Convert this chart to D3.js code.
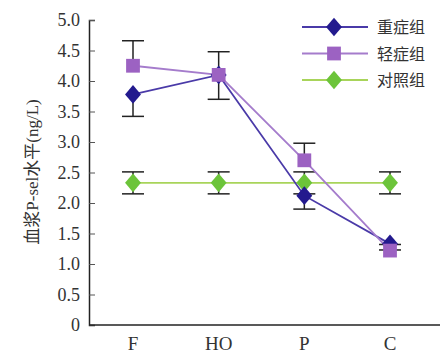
<!DOCTYPE html>
<html>
<head>
<meta charset="utf-8">
<script src="https://cdn.jsdelivr.net/npm/d3@7"></script>
<style>
  body { margin: 0; background: #fff; }
  text { font-family: "Liberation Serif", "Noto Sans CJK SC", serif; }
</style>
</head>
<body>
<div id="canvas"></div>
<script>
// categories and series
const groups = ["F", "HO", "P", "C"];
const seriesNames = ["重症组", "轻症组", "对照组"];
const heavyVals = [3.78, 4.10, 2.12, 1.33];
const lightVals = [4.25, 4.10, 2.70, 1.22];
const controlVals = [2.33, 2.33, 2.33, 2.33];
// error bar sizes (heavy drawn downward, light upward, control both ways)
const heavyErr = [0.36, 0.40, 0.22, 0.10];
const lightErr = [0.41, 0.38, 0.28, 0.10];
const controlErr = [0.18, 0.18, 0.18, 0.18];
const yTicks = [0, 0.5, 1.0, 1.5, 2.0, 2.5, 3.0, 3.5, 4.0, 4.5, 5.0];

const width = 442, height = 357;
const margin = {top: 20, right: 2, bottom: 32, left: 89};

const svg = d3.select("#canvas")
    .append("svg")
    .attr("width", width)
    .attr("height", height);

const x = d3.scalePoint()
    .domain(groups)
    .range([133, 390]);

const y = d3.scaleLinear()
    .domain([0, 5])
    .range([height - margin.bottom, margin.top]);

// y axis with inner ticks
const yAxis = svg.append("g")
    .attr("transform", "translate(" + margin.left + ",0)")
    .call(d3.axisLeft(y).tickValues(yTicks).tickSize(-6).tickPadding(9)
        .tickFormat(d => d === 0 ? "0" : d3.format(".1f")(d)));
yAxis.select(".domain").attr("stroke", "#222").attr("stroke-width", 1.5);
yAxis.selectAll(".tick line").attr("stroke", "#555");
yAxis.selectAll(".tick text")
    .attr("font-size", 18)
    .attr("fill", "#333")
    .style("font-family", "Liberation Serif");

// x axis line and labels
svg.append("line")
    .attr("x1", margin.left).attr("x2", width - margin.right)
    .attr("y1", y(0)).attr("y2", y(0))
    .attr("stroke", "#222").attr("stroke-width", 1.5);
svg.selectAll(".xlab")
    .data(groups)
    .enter()
    .append("text")
    .attr("x", d => x(d))
    .attr("y", 350)
    .attr("text-anchor", "middle")
    .attr("font-size", 19)
    .attr("fill", "#333")
    .text(d => d);

// y axis title
svg.append("text")
    .attr("transform", "translate(38,172) rotate(-90)")
    .attr("text-anchor", "middle")
    .attr("font-size", 17)
    .attr("fill", "#333")
    .text("血浆P-sel水平(ng/L)");

const series = [
    {name: seriesNames[0], vals: heavyVals, err: heavyErr, dir: "down", line: "#4a3aa8", fill: "#231a8e", shape: "diamond"},
    {name: seriesNames[1], vals: lightVals, err: lightErr, dir: "up", line: "#a57ccc", fill: "#9c62c2", shape: "square"},
    {name: seriesNames[2], vals: controlVals, err: controlErr, dir: "both", line: "#a8d45a", fill: "#6cc43a", shape: "diamond"}
];

const capW = 11;
function drawErr(g, cx, v, e, dir) {
    const lo = dir === "up" ? v : v - e;
    const hi = dir === "down" ? v : v + e;
    g.append("line").attr("x1", cx).attr("x2", cx).attr("y1", y(lo)).attr("y2", y(hi))
        .attr("stroke", "#222").attr("stroke-width", 1.5);
    if (dir !== "up")
        g.append("line").attr("x1", cx - capW).attr("x2", cx + capW).attr("y1", y(lo)).attr("y2", y(lo))
            .attr("stroke", "#222").attr("stroke-width", 1.5);
    if (dir !== "down")
        g.append("line").attr("x1", cx - capW).attr("x2", cx + capW).attr("y1", y(hi)).attr("y2", y(hi))
            .attr("stroke", "#222").attr("stroke-width", 1.5);
}

const errGroup = svg.append("g");
series.forEach(s => {
    groups.forEach((gname, i) => drawErr(errGroup, x(gname), s.vals[i], s.err[i], s.dir));
});

const symbolFor = shape => shape === "square"
    ? d3.symbol().type(d3.symbolSquare).size(190)
    : d3.symbol().type(d3.symbolDiamond).size(140);

const lineGen = d3.line()
    .x((d, i) => x(groups[i]))
    .y(d => y(d));

// draw control first, then heavy, light on top
[series[2], series[0], series[1]].forEach(s => {
    svg.append("path")
        .datum(s.vals)
        .attr("d", lineGen)
        .attr("fill", "none")
        .attr("stroke", s.line)
        .attr("stroke-width", 1.8);
});
[series[2], series[0], series[1]].forEach(s => {
    svg.selectAll(null)
        .data(s.vals)
        .enter()
        .append("path")
        .attr("d", symbolFor(s.shape))
        .attr("transform", (d, i) => "translate(" + x(groups[i]) + "," + y(d) + ")" +
            (s.shape === "diamond" ? " scale(1.25,0.85)" : ""))
        .attr("fill", s.fill);
});

// legend
const legend = svg.append("g");
series.forEach((s, i) => {
    const ly = 27 + i * 26.5;
    legend.append("line")
        .attr("x1", 302).attr("x2", 368).attr("y1", ly).attr("y2", ly)
        .attr("stroke", s.line).attr("stroke-width", 2);
    legend.append("path")
        .attr("d", symbolFor(s.shape))
        .attr("transform", "translate(334," + ly + ")" + (s.shape === "diamond" ? " scale(1.25,0.85)" : ""))
        .attr("fill", s.fill);
    legend.append("text")
        .attr("x", 377).attr("y", ly + 6)
        .attr("font-size", 16)
        .attr("fill", "#333")
        .style("font-family", "Noto Sans CJK SC")
        .text(s.name);
});
</script>
</body>
</html>
